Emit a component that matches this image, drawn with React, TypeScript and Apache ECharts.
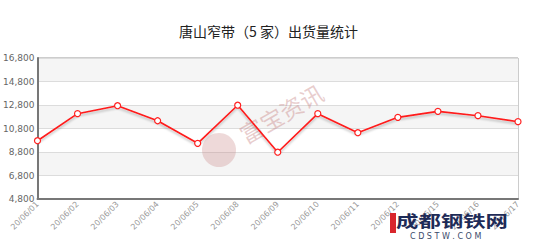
import React, { useEffect, useRef } from "react";
import * as echarts from "echarts";

const categories = ["20/06/01","20/06/02","20/06/03","20/06/04","20/06/05","20/06/08","20/06/09","20/06/10","20/06/11","20/06/12","20/06/15","20/06/16","20/06/17"];
const shipments = [9760, 12060, 12740, 11460, 9540, 12780, 8780, 12060, 10440, 11750, 12260, 11890, 11380];
const yMin = 4800;
const yMax = 16800;
const yStep = 2000;
const titleText = "唐山窄带（5 家）出货量统计";

export default function App() {
  const ref = useRef<HTMLDivElement>(null);
  useEffect(() => {
    if (!ref.current) return;
    const chart = echarts.init(ref.current, null, { renderer: "svg" });
    chart.setOption({
      animation: false,
      backgroundColor: "#fff",
      title: {
        text: titleText,
        left: "center",
        top: 19,
        textStyle: { fontSize: 14, fontWeight: "normal", color: "#222", fontFamily: "Noto Sans CJK SC" },
      },
      grid: {
        left: 34, right: 19, top: 58, bottom: 46,
        show: true, borderColor: "#9a9a9a", borderWidth: 1, backgroundColor: "transparent",
      },
      xAxis: {
        type: "category",
        data: categories,
        boundaryGap: false,
        axisLine: { lineStyle: { color: "#777", width: 2 } },
        axisTick: { show: false },
        axisLabel: { rotate: 45, fontSize: 8, color: "#999", margin: 4, fontFamily: "DejaVu Sans", interval: 0 },
        splitLine: { show: false },
      },
      yAxis: {
        type: "value",
        min: yMin, max: yMax, interval: yStep,
        axisLine: { show: true, lineStyle: { color: "#777", width: 2 } },
        axisTick: { show: false },
        axisLabel: {
          fontSize: 9, color: "#666", margin: 3, fontFamily: "DejaVu Sans",
          formatter: (v: number) => v.toLocaleString("en-US"),
        },
        splitLine: { show: true, lineStyle: { color: "#dcdcdc", width: 1 } },
        splitArea: { show: true, areaStyle: { color: ["#ffffff", "#f5f5f5"] } },
      },
      graphic: [
        {
          type: "circle", shape: { cx: 219, cy: 150, r: 17 },
          style: { fill: "rgba(200,130,130,0.3)" }, z: 3,
        },
        {
          type: "text", x: 247, y: 146, rotation: Math.PI / 6,
          style: { text: "富宝资讯", fontSize: 23, fill: "rgba(190,110,110,0.35)", fontFamily: "Noto Sans CJK SC", verticalAlign: "bottom" },
          z: 3,
        },
        {
          type: "rect", shape: { x: 390, y: 213, width: 6, height: 20 },
          style: { fill: "#d9262c" }, z: 10,
        },
        {
          type: "text", x: 396, y: 212, scaleX: 1.4,
          style: { text: "成都钢铁网", fontSize: 16, fontWeight: "bold", fill: "#1e2b57", fontFamily: "Noto Sans CJK SC" },
          z: 10,
        },
        {
          type: "text", x: 410, y: 232,
          style: { text: "C D S T W . C O M", fontSize: 8, fill: "#3a4a6a", fontFamily: "DejaVu Sans" },
          z: 10,
        },
      ],
      series: [
        {
          type: "line",
          data: shipments,
          symbol: "circle",
          symbolSize: 6,
          itemStyle: { color: "#ffffff", borderColor: "#ff2020", borderWidth: 1.2 },
          lineStyle: { color: "#ff1a1a", width: 1.6, shadowColor: "rgba(0,0,0,0.25)", shadowBlur: 2, shadowOffsetY: 2 },
          z: 5,
        },
      ],
    });
    return () => chart.dispose();
  }, []);
  return <div ref={ref} style={{ position: "absolute", left: 0, top: 0, width: 537, height: 245 }} />;
}
